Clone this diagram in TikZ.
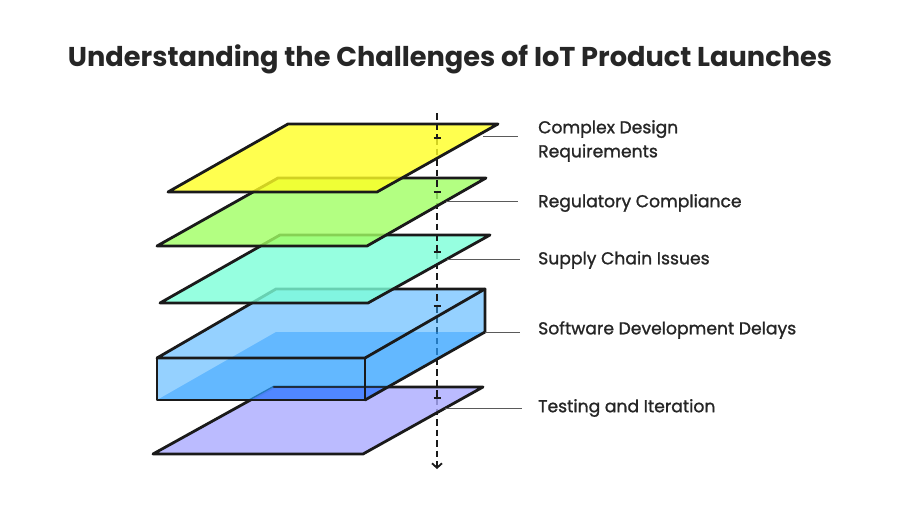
\documentclass[tikz,border=0pt]{standalone}
\usepackage{fontspec}
\setmainfont{Poppins}
\newfontfamily\lblfont{Poppins}[FakeBold=1.2]
\usetikzlibrary{arrows.meta}
\definecolor{cyel}{RGB}{255,255,36}
\definecolor{cgrn}{RGB}{161,255,99}
\definecolor{ccya}{RGB}{124,255,217}
\definecolor{cpur}{RGB}{170,170,255}
\definecolor{cbox}{RGB}{45,165,255}
\definecolor{cboxd}{RGB}{39,154,255}
\definecolor{covl}{RGB}{80,130,255}
\definecolor{cink}{RGB}{26,26,26}
\definecolor{ctxt}{RGB}{38,38,38}
\definecolor{clead}{RGB}{90,90,90}
\tikzset{
  edgeline/.style={draw=cink, line width=2.8pt, line join=round, line cap=round},
  plane/.style={edgeline, fill opacity=.8},
  leader/.style={draw=clead, line width=1pt},
  lbl/.style={anchor=west, font=\lblfont\fontsize{17.2}{24}\selectfont, text=ctxt, inner sep=0pt, align=left},
  axisline/.style={draw=cink, line width=2.2pt, dash pattern=on 6.5pt off 4pt},
  tickmark/.style={draw=cink, line width=1.8pt}
}
\begin{document}
\begin{tikzpicture}[x=1pt,y=-1pt]
\useasboundingbox (0,0) rectangle (900,514);
\fill[white] (0,0) rectangle (900,514);

\node[font=\fontsize{27.2}{30}\selectfont\bfseries, text=ctxt] (title) at (450,59) {Understanding the Challenges of IoT Product Launches};

% axis points
\coordinate (atop) at (437,113);
\coordinate (m1) at (437,138);
\coordinate (m2) at (437,192);
\coordinate (m3) at (437,252);
\coordinate (m4) at (437,306);
\coordinate (m5) at (437,398);
\coordinate (aend) at (437,469);

% plane corners
\coordinate (y1) at (288,124); \coordinate (y2) at (498,124); \coordinate (y3) at (377,192); \coordinate (y4) at (168,192);
\coordinate (g1) at (278,178); \coordinate (g2) at (486,178); \coordinate (g3) at (367,246); \coordinate (g4) at (157,246);
\coordinate (c1) at (280,235); \coordinate (c2) at (490,235); \coordinate (c3) at (368,303); \coordinate (c4) at (160,303);
\coordinate (p1) at (274,387); \coordinate (p2) at (483,387); \coordinate (p3) at (363,454); \coordinate (p4) at (153,454);
% box corners
\coordinate (t1) at (276,289); \coordinate (t2) at (485,289); \coordinate (t3) at (365,358); \coordinate (t4) at (157,358);
\coordinate (f3) at (365,400); \coordinate (f4) at (157,400); \coordinate (r2) at (485,332); \coordinate (r1) at (276,332);

% lowest axis part
\draw[axisline, -{Straight Barb[length=4.5pt,width=10pt,line width=1.8pt]}] (m5) -- (aend);
% purple plane
\path[plane, fill=cpur] (p1) -- (p2) -- (p3) -- (p4) -- cycle;
\draw[axisline] (m4) -- (m5);
% box
\fill[cbox, fill opacity=.5] (t1) -- (t2) -- (t3) -- (t4) -- cycle
  (t4) -- (t3) -- (f3) -- (f4) -- cycle
  (t3) -- (t2) -- (r2) -- (f3) -- cycle;
\fill[cboxd, fill opacity=.45] (r1) -- (r2) -- (f3) -- (f4) -- cycle;
\begin{scope}
  \clip (r1) -- (r2) -- (f3) -- (f4) -- cycle;
  \fill[covl, fill opacity=.85] (p1) -- (p2) -- (p3) -- (p4) -- cycle;
  \draw[edgeline, draw opacity=.8] (p1) -- (p2);
\end{scope}
\draw[edgeline] (t1) -- (t2) -- (t3) -- (t4) -- cycle;
\draw[edgeline] (t4) -- (f4) -- (f3) -- (t3);
\draw[edgeline] (t2) -- (r2) -- (f3);
\draw[axisline] (m3) -- (m4);
% cyan plane
\path[plane, fill=ccya] (c1) -- (c2) -- (c3) -- (c4) -- cycle;
\draw[axisline] (m2) -- (m3);
% green plane
\path[plane, fill=cgrn] (g1) -- (g2) -- (g3) -- (g4) -- cycle;
\draw[axisline] (m1) -- (m2);
% yellow plane
\path[plane, fill=cyel] (y1) -- (y2) -- (y3) -- (y4) -- cycle;
\draw[axisline] (atop) -- (m1);
% tick marks
\foreach \m in {m1,m2,m3,m4,m5}{
  \draw[tickmark] ([xshift=-3.5pt]\m) -- ([xshift=3.5pt]\m);
}

% labels
\node[lbl] (lab1) at (538,141) {Complex Design\\Requirements};
\node[lbl] (lab2) at (538,203) {Regulatory Compliance};
\node[lbl] (lab3) at (538,260) {Supply Chain Issues};
\node[lbl] (lab4) at (538,330) {Software Development Delays};
\node[lbl] (lab5) at (538,408) {Testing and Iteration};

% leader lines
\coordinate (s1) at (483,136); \coordinate (e1) at (518,136);
\coordinate (s2) at (446,201); \coordinate (e2) at (518,201);
\coordinate (s3) at (447,259); \coordinate (e3) at (520,259);
\coordinate (s4) at (485,332); \coordinate (e4) at (520,332);
\coordinate (s5) at (445,408); \coordinate (e5) at (522,408);
\draw[leader] (s1) -- (e1);
\draw[leader] (s2) -- (e2);
\draw[leader] (s3) -- (e3);
\draw[leader] (s4) -- (e4);
\draw[leader] (s5) -- (e5);
\end{tikzpicture}
\end{document}
